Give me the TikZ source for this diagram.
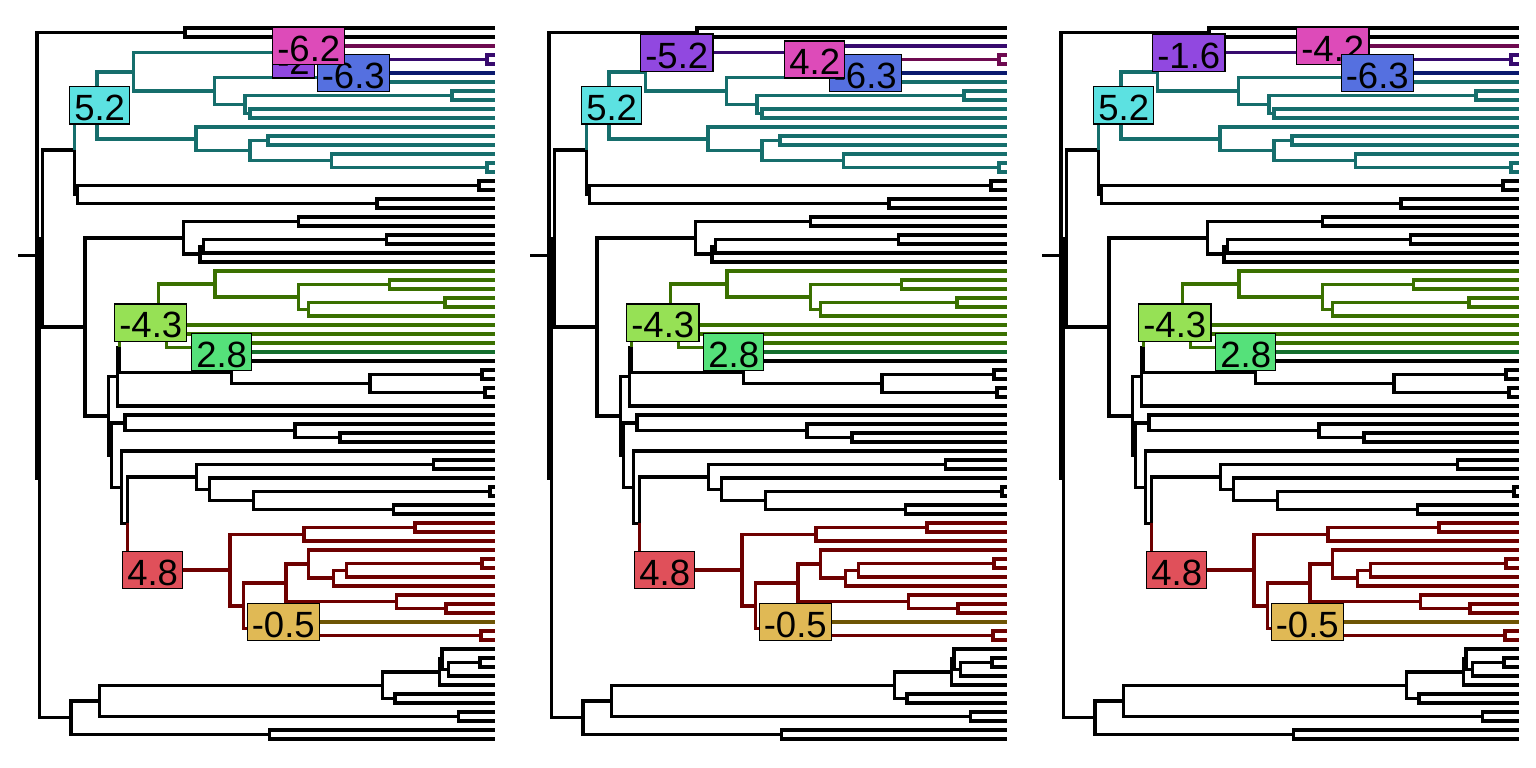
\documentclass[tikz,border=0pt]{standalone}
\usepackage{fontspec}
\setmainfont{Liberation Sans}

% branch colours
\definecolor{tealbr}{RGB}{22,110,108}
\definecolor{magbr}{RGB}{110,10,80}
\definecolor{purbr}{RGB}{55,10,110}
\definecolor{navybr}{RGB}{10,25,110}
\definecolor{greenbr}{RGB}{58,112,0}
\definecolor{greentwobr}{RGB}{20,110,45}
\definecolor{redbr}{RGB}{110,0,0}
\definecolor{brownbr}{RGB}{110,85,5}
% label fills
\definecolor{cyanfill}{RGB}{92,225,225}
\definecolor{magfill}{RGB}{221,75,185}
\definecolor{purfill}{RGB}{145,72,224}
\definecolor{bluefill}{RGB}{85,112,224}
\definecolor{limefill}{RGB}{150,225,85}
\definecolor{greenfill}{RGB}{85,225,122}
\definecolor{redfill}{RGB}{224,80,90}
\definecolor{yellowfill}{RGB}{224,185,85}

\tikzset{
  edge/.style={line width=3.4pt, line join=miter, line cap=butt},
  lab/.style={draw=black, line width=1.4pt, anchor=west, inner xsep=4.6pt,
    inner ysep=0pt, text height=34pt, text depth=3.3pt,
    font=\fontsize{36.5}{40}\selectfont},
}

% one branch: vertical from the parent, then across to the child
\newcommand\tredge[3][black]{\draw[edge,#1] (#2) |- (#3);}

% the tree; #1 colour of branch to P, #2 of P's single tip, #3 of P's tip pair
\newcommand\phylo[3]{%
  \foreach \i in {0,...,79} {\coordinate (l\i) at (494.5,{28+9*\i});}
  \coordinate (stub) at (18,255.27);
  \coordinate (root) at (37,255.27);
  \coordinate (a01) at (185,32.5);
  \coordinate (R2) at (39.5,478.04);
  \coordinate (B) at (42.3,238.39);
  \coordinate (n74) at (74.5,149.92);
  \coordinate (n77) at (77.5,194.5);
  \coordinate (b1718) at (479,185.5);
  \coordinate (b1920) at (377,203.5);
  \coordinate (T) at (97,105.34);
  \coordinate (T1) at (133.5,71.875);
  \coordinate (P) at (277.5,52.75);
  \coordinate (p34) at (487,59.5);
  \coordinate (n214) at (214.5,91);
  \coordinate (U) at (322,77.5);
  \coordinate (n245) at (245,104.5);
  \coordinate (b78) at (452,95.5);
  \coordinate (b910) at (250,113.5);
  \coordinate (T2) at (196,138.81);
  \coordinate (n250) at (250,150.625);
  \coordinate (b1213) at (268,140.5);
  \coordinate (n331) at (331.7,160.75);
  \coordinate (b1516) at (487,167.5);
  \coordinate (n85) at (85,326.85);
  \coordinate (n183) at (183.3,237.81);
  \coordinate (b2122) at (298.3,221.5);
  \coordinate (n200) at (200,254.125);
  \coordinate (n203) at (203.3,246.25);
  \coordinate (b2324) at (386.7,239.5);
  \coordinate (n108) at (108.3,415.89);
  \coordinate (N118) at (117.5,376.72);
  \coordinate (N119) at (119.5,347.43);
  \coordinate (G) at (147.7,322.61);
  \coordinate (G3) at (158.3,304.47);
  \coordinate (g215) at (215,283.94);
  \coordinate (g298) at (298.3,296.875);
  \coordinate (b2829) at (389.3,284.5);
  \coordinate (g308) at (308.3,309.25);
  \coordinate (b3031) at (445,302.5);
  \coordinate (G4) at (166.7,340.75);
  \coordinate (X) at (196.5,347.5);
  \coordinate (n231) at (231.7,372.25);
  \coordinate (n370) at (370,383.5);
  \coordinate (b3839) at (482,374.5);
  \coordinate (b4041) at (485,392.5);
  \coordinate (n111) at (111.7,455.05);
  \coordinate (n125) at (125,422.875);
  \coordinate (n295) at (295,430.75);
  \coordinate (b4546) at (340,437.5);
  \coordinate (n121) at (121.7,487.23);
  \coordinate (n126) at (127.5,523.46);
  \coordinate (n196) at (196.7,476.875);
  \coordinate (b4849) at (433.5,464.5);
  \coordinate (n209) at (209.5,489.25);
  \coordinate (n253) at (253.3,500.5);
  \coordinate (b5152) at (490,491.5);
  \coordinate (b5354) at (393.3,509.5);
  \coordinate (R4) at (230,570.04);
  \coordinate (n304) at (304,534.25);
  \coordinate (b5556) at (415,527.5);
  \coordinate (n244) at (243.5,605.83);
  \coordinate (n286) at (286,582.91);
  \coordinate (r308) at (308.3,564.06);
  \coordinate (n333) at (333.3,578.125);
  \coordinate (n346) at (346.7,570.25);
  \coordinate (b5960) at (482,563.5);
  \coordinate (n396) at (396.7,601.75);
  \coordinate (b6465) at (446,608.5);
  \coordinate (Y) at (252,628.75);
  \coordinate (b6768) at (481,635.5);
  \coordinate (n71) at (71,717.7);
  \coordinate (n99) at (99.3,700.89);
  \coordinate (b7879) at (269.3,734.5);
  \coordinate (n382) at (382.7,685.28);
  \coordinate (b7677) at (458.3,716.5);
  \coordinate (n440) at (439.5,672.06);
  \coordinate (b7475) at (395,698.5);
  \coordinate (W) at (442,659.125);
  \coordinate (n448) at (448.3,669.25);
  \coordinate (b7071) at (480,662.5);
  % root and first split
  \draw[edge] (stub) -- (root);
  \tredge{root}{a01}\tredge{root}{R2}
  \tredge{a01}{l0}\tredge{a01}{l1}
  \tredge{R2}{B}\tredge{R2}{n71}
  \tredge{B}{n74}\tredge{B}{n85}
  % teal clade
  \tredge[tealbr]{n74}{T}\tredge{n74}{n77}
  \tredge{n77}{b1718}\tredge{n77}{b1920}
  \tredge{b1718}{l17}\tredge{b1718}{l18}
  \tredge{b1920}{l19}\tredge{b1920}{l20}
  \tredge[tealbr]{T}{T1}\tredge[tealbr]{T}{T2}
  \tredge[#1]{T1}{P}\tredge[tealbr]{T1}{n214}
  \tredge[#2]{P}{l2}\tredge[#3]{P}{p34}
  \tredge[#3]{p34}{l3}\tredge[#3]{p34}{l4}
  \tredge[tealbr]{n214}{U}\tredge[tealbr]{n214}{n245}
  \tredge[navybr]{U}{l5}\tredge[tealbr]{U}{l6}
  \tredge[tealbr]{n245}{b78}\tredge[tealbr]{n245}{b910}
  \tredge[tealbr]{b78}{l7}\tredge[tealbr]{b78}{l8}
  \tredge[tealbr]{b910}{l9}\tredge[tealbr]{b910}{l10}
  \tredge[tealbr]{T2}{l11}\tredge[tealbr]{T2}{n250}
  \tredge[tealbr]{n250}{b1213}\tredge[tealbr]{n250}{n331}
  \tredge[tealbr]{b1213}{l12}\tredge[tealbr]{b1213}{l13}
  \tredge[tealbr]{n331}{l14}\tredge[tealbr]{n331}{b1516}
  \tredge[tealbr]{b1516}{l15}\tredge[tealbr]{b1516}{l16}
  % middle part
  \tredge{n85}{n183}\tredge{n85}{n108}
  \tredge{n183}{b2122}\tredge{n183}{n200}
  \tredge{b2122}{l21}\tredge{b2122}{l22}
  \tredge{n200}{n203}\tredge{n200}{l26}
  \tredge{n203}{b2324}\tredge{n203}{l25}
  \tredge{b2324}{l23}\tredge{b2324}{l24}
  \tredge{n108}{N118}\tredge{n108}{n111}
  \tredge{N118}{N119}\tredge{N118}{l42}
  \tredge[greenbr]{N119}{G}\tredge{N119}{n231}
  % green clade
  \tredge[greenbr]{G}{G3}\tredge[greenbr]{G}{G4}
  \tredge[greenbr]{G3}{g215}\tredge[greenbr]{G3}{l33}
  \tredge[greenbr]{g215}{l27}\tredge[greenbr]{g215}{g298}
  \tredge[greenbr]{g298}{b2829}\tredge[greenbr]{g298}{g308}
  \tredge[greenbr]{b2829}{l28}\tredge[greenbr]{b2829}{l29}
  \tredge[greenbr]{g308}{b3031}\tredge[greenbr]{g308}{l32}
  \tredge[greenbr]{b3031}{l30}\tredge[greenbr]{b3031}{l31}
  \tredge[greenbr]{G4}{l34}\tredge[greenbr]{G4}{X}
  \tredge[greenbr]{X}{l35}\tredge[greentwobr]{X}{l36}
  \tredge{n231}{l37}\tredge{n231}{n370}
  \tredge{n370}{b3839}\tredge{n370}{b4041}
  \tredge{b3839}{l38}\tredge{b3839}{l39}
  \tredge{b4041}{l40}\tredge{b4041}{l41}
  \tredge{n111}{n125}\tredge{n111}{n121}
  \tredge{n125}{l43}\tredge{n125}{n295}
  \tredge{n295}{l44}\tredge{n295}{b4546}
  \tredge{b4546}{l45}\tredge{b4546}{l46}
  \tredge{n121}{l47}\tredge{n121}{n126}
  \tredge{n126}{n196}\tredge[redbr]{n126}{R4}
  \tredge{n196}{b4849}\tredge{n196}{n209}
  \tredge{b4849}{l48}\tredge{b4849}{l49}
  \tredge{n209}{l50}\tredge{n209}{n253}
  \tredge{n253}{b5152}\tredge{n253}{b5354}
  \tredge{b5152}{l51}\tredge{b5152}{l52}
  \tredge{b5354}{l53}\tredge{b5354}{l54}
  % red clade
  \tredge[redbr]{R4}{n304}\tredge[redbr]{R4}{n244}
  \tredge[redbr]{n304}{b5556}\tredge[redbr]{n304}{l57}
  \tredge[redbr]{b5556}{l55}\tredge[redbr]{b5556}{l56}
  \tredge[redbr]{n244}{n286}\tredge[redbr]{n244}{Y}
  \tredge[redbr]{n286}{r308}\tredge[redbr]{n286}{n396}
  \tredge[redbr]{r308}{l58}\tredge[redbr]{r308}{n333}
  \tredge[redbr]{n333}{n346}\tredge[redbr]{n333}{l62}
  \tredge[redbr]{n346}{b5960}\tredge[redbr]{n346}{l61}
  \tredge[redbr]{b5960}{l59}\tredge[redbr]{b5960}{l60}
  \tredge[redbr]{n396}{l63}\tredge[redbr]{n396}{b6465}
  \tredge[redbr]{b6465}{l64}\tredge[redbr]{b6465}{l65}
  \tredge[brownbr]{Y}{l66}\tredge[redbr]{Y}{b6768}
  \tredge[redbr]{b6768}{l67}\tredge[redbr]{b6768}{l68}
  % bottom clade
  \tredge{n71}{n99}\tredge{n71}{b7879}
  \tredge{b7879}{l78}\tredge{b7879}{l79}
  \tredge{n99}{n382}\tredge{n99}{b7677}
  \tredge{b7677}{l76}\tredge{b7677}{l77}
  \tredge{n382}{n440}\tredge{n382}{b7475}
  \tredge{b7475}{l74}\tredge{b7475}{l75}
  \tredge{n440}{W}\tredge{n440}{l73}
  \tredge{W}{l69}\tredge{W}{n448}
  \tredge{n448}{b7071}\tredge{n448}{l72}
  \tredge{b7071}{l70}\tredge{b7071}{l71}
  % labels shared by all three trees
  \node[lab,fill=cyanfill] (labT) at (69,105.34) {5.2};
  \node[lab,fill=limefill] (labG) at (114,322.61) {-4.3};
  \node[lab,fill=greenfill] (labX) at (191,352) {2.8};
  \node[lab,fill=redfill] (labR) at (122,570.04) {4.8};
  \node[lab,fill=yellowfill] (labY) at (246.5,622) {-0.5};
}

\begin{document}
\begin{tikzpicture}[x=1pt,y=-1pt]
\useasboundingbox (0,0) rectangle (1536,768);
\fill[white] (0,0) rectangle (1536,768);

\begin{scope}
  \phylo{tealbr}{magbr}{purbr}
  \node[lab,fill=purfill] (labPa) at (272,59.5) {-2};
  \node[lab,fill=bluefill] (labUa) at (316.5,73) {-6.3};
  \node[lab,fill=magfill] (labLa) at (272,46) {-6.2};
\end{scope}

\begin{scope}[xshift=512pt]
  \phylo{purbr}{purbr}{magbr}
  \node[lab,fill=purfill] (labPb) at (128,52.75) {-5.2};
  \node[lab,fill=bluefill] (labUb) at (316.5,73) {-6.3};
  \node[lab,fill=magfill] (labLb) at (272,59.5) {4.2};
\end{scope}

\begin{scope}[xshift=1024pt]
  \phylo{purbr}{magbr}{purbr}
  \node[lab,fill=purfill] (labPc) at (128,52.75) {-1.6};
  \node[lab,fill=magfill] (labLc) at (272,46) {-4.2};
  \node[lab,fill=bluefill] (labUc) at (316.5,73) {-6.3};
\end{scope}
\end{tikzpicture}
\end{document}
